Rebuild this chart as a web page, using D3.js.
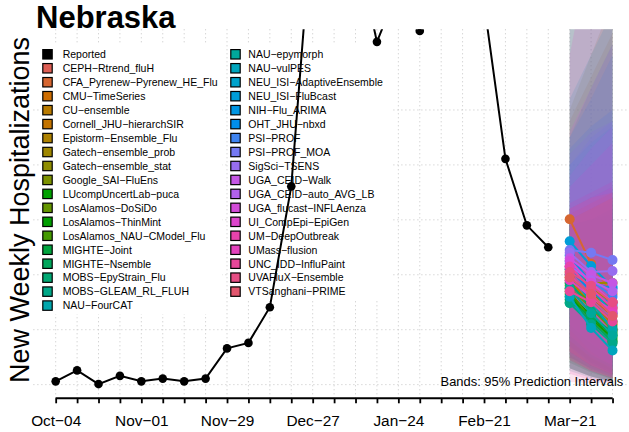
<!DOCTYPE html>
<html><head><meta charset="utf-8">
<script src="https://cdn.jsdelivr.net/npm/d3@7"></script>
<style>body{margin:0;background:#fff}svg{display:block;font-family:"Liberation Sans",Arial,Helvetica,sans-serif}</style>
</head><body><svg id="chart" width="629" height="432"></svg>
<script>
// ---------------- data ----------------
const weeks = ["2025-10-04","2025-10-11","2025-10-18","2025-10-25","2025-11-01","2025-11-08","2025-11-15","2025-11-22","2025-11-29","2025-12-06","2025-12-13","2025-12-20","2025-12-27","2026-01-03","2026-01-10","2026-01-17","2026-01-24","2026-01-31","2026-02-07","2026-02-14","2026-02-21","2026-02-28","2026-03-07","2026-03-14","2026-03-21","2026-03-28","2026-04-04"];
const reportedDates = ["2025-10-04","2025-10-11","2025-10-18","2025-10-25","2025-11-01","2025-11-08","2025-11-15","2025-11-22","2025-11-29","2025-12-06","2025-12-13","2025-12-20","2025-12-27","2026-01-03","2026-01-10","2026-01-17","2026-01-24","2026-01-31","2026-02-07","2026-02-14","2026-02-21","2026-02-28","2026-03-07","2026-03-14"];
const reported = [6,26,1,16,6,11,6,11,66,76,141,361,857,930,803,624,721,644,760,740,695,411,290,250];
const tickLabelDates = ["2025-10-04","2025-11-01","2025-11-29","2025-12-27","2026-01-24","2026-02-21","2026-03-21"];
const tickLabels = ["Oct\u221204","Nov\u221201","Nov\u221229","Dec\u221227","Jan\u221224","Feb\u221221","Mar\u221221"];
const yGrid = [0,100,200,300,400,500];
const yLimits = [0,622];
const forecastDates = ["2026-03-21","2026-03-28","2026-04-04"];
const models = ["CEPH\u2212Rtrend_fluH","CFA_Pyrenew\u2212Pyrenew_HE_Flu","CMU\u2212TimeSeries","CU\u2212ensemble","Cornell_JHU\u2212hierarchSIR","Epistorm\u2212Ensemble_Flu","Gatech\u2212ensemble_prob","Gatech\u2212ensemble_stat","Google_SAI\u2212FluEns","LUcompUncertLab\u2212puca","LosAlamos\u2212DoSiDo","LosAlamos\u2212ThinMint","LosAlamos_NAU\u2212CModel_Flu","MIGHTE\u2212Joint","MIGHTE\u2212Nsemble","MOBS\u2212EpyStrain_Flu","MOBS\u2212GLEAM_RL_FLUH","NAU\u2212FourCAT","NAU\u2212epymorph","NAU\u2212vulPES","NEU_ISI\u2212AdaptiveEnsemble","NEU_ISI\u2212FluBcast","NIH\u2212Flu_ARIMA","OHT_JHU\u2212nbxd","PSI\u2212PROF","PSI\u2212PROF_MOA","SigSci\u2212TSENS","UGA_CEID\u2212Walk","UGA_CEID\u2212auto_AVG_LB","UGA_flucast\u2212INFLAenza","UI_CompEpi\u2212EpiGen","UM\u2212DeepOutbreak","UMass\u2212flusion","UNC_IDD\u2212InfluPaint","UVAFluX\u2212Ensemble","VTSanghani\u2212PRIME"];
// position of each model in the colour sequence (palette assigned in locale sort order)
const colourRank = [0,1,2,4,3,5,6,7,8,12,9,11,10,13,14,15,16,18,17,19,20,21,22,23,24,25,26,28,27,29,30,32,31,33,34,35];
// medians
const medMar21 = [215,301,200,185,195,210,205,190,175,160,180,165,170,150,155,185,148,200,175,160,225,261,235,210,220,245,240,230,215,225,200,215,190,170,205,195];
const medMar28 = [180,220,160,150,140,175,185,165,140,120,150,125,118,125,115,140,110,150,130,103,175,216,185,170,190,240,205,200,190,185,160,175,160,150,180,165];
const medApr04 = [150,165,125,110,100,150,185,140,100,85,115,90,78,95,80,105,75,100,90,62,130,178,175,145,160,227,207,185,170,150,135,140,130,115,150,125];
// 95% lower bounds
const loMar21 = [60,90,70,60,40,80,60,70,50,30,50,45,30,50,40,65,30,70,25,30,80,100,70,50,80,110,90,60,55,50,45,20,30,5,60,45];
const loMar28 = [35,50,40,35,22,48,35,42,28,15,30,25,15,30,22,38,15,40,12,15,50,60,35,28,48,75,55,35,30,25,25,8,15,3,35,25];
const loApr04 = [20,25,20,18,10,28,22,25,12,6,15,10,5,18,10,22,5,20,4,5,30,35,20,15,28,50,35,20,15,12,12,4,6,3,18,12];
// 95% upper bounds
const hiMar21 = [300,700,290,300,480,310,500,290,300,320,310,300,680,290,300,290,450,330,520,320,400,430,450,700,400,420,650,460,380,360,320,330,600,310,320,300];
const hiMar28 = [320,850,310,320,560,330,600,300,320,340,330,320,820,300,310,300,540,350,600,340,440,470,520,880,450,460,760,540,430,400,340,350,800,330,340,320];
const hiApr04 = [340,1000,330,340,640,350,700,320,340,360,350,330,980,320,330,310,620,370,680,360,470,500,600,1050,480,480,880,620,470,440,360,370,1100,350,350,340];

// ---------------- helpers ----------------
const parse = d3.utcParse("%Y-%m-%d");
// R-style hcl() colour (polar CIE-LUV)
function hclR(h, c, l) {
  const Xn = 95.047, Yn = 100, Zn = 108.883;
  const den = Xn + 15 * Yn + 3 * Zn;
  const un = 4 * Xn / den, vn = 9 * Yn / den;
  const hr = h * Math.PI / 180;
  const U = c * Math.cos(hr), V = c * Math.sin(hr);
  const Y = l > 8 ? Yn * Math.pow((l + 16) / 116, 3) : Yn * l / 903.3;
  const u = U / (13 * l) + un, v = V / (13 * l) + vn;
  const X = Y * 9 * u / (4 * v);
  const Z = Y * (12 - 3 * u - 20 * v) / (4 * v);
  const lin = [3.240479 * X - 1.537150 * Y - 0.498535 * Z,
               -0.969256 * X + 1.875992 * Y + 0.041556 * Z,
               0.055648 * X - 0.204043 * Y + 1.057311 * Z].map(t => t / 100);
  const g = t => t <= 0.0031308 ? 12.92 * t : 1.055 * Math.pow(t, 1 / 2.4) - 0.055;
  const ch = lin.map(t => Math.max(0, Math.min(255, Math.round(255 * g(Math.max(0, t))))));
  return d3.rgb(ch[0], ch[1], ch[2]).formatHex();
}
const palette = models.map((m, i) => hclR(15 + 360 * colourRank[i] / models.length, 100, 56));

// ---------------- layout ----------------
const svg = d3.select("#chart");
const plot = {left: 33.4, right: 634.8, top: 29.3, bottom: 398.3};

const d0 = parse(weeks[0]), d1 = parse(weeks[weeks.length - 1]);
const span = d1 - d0;
const x = d3.scaleUtc()
  .domain([new Date(+d0 - 0.04 * span), new Date(+d1 + 0.04 * span)])
  .range([plot.left, plot.right]);
const yr = yLimits[1] - yLimits[0];
const y = d3.scaleLinear()
  .domain([yLimits[0] - 0.04 * yr, yLimits[1] + 0.04 * yr])
  .range([plot.bottom, plot.top]);

svg.append("defs").append("clipPath").attr("id", "clip")
  .append("rect").attr("x", plot.left).attr("y", plot.top)
  .attr("width", plot.right - plot.left).attr("height", plot.bottom - plot.top);

// grid
const grid = svg.append("g").attr("stroke", "#c4c4c4").attr("stroke-width", 1).attr("stroke-dasharray", "1,3");
grid.selectAll("line.v").data(weeks).join("line").attr("class", "v")
  .attr("x1", d => x(parse(d))).attr("x2", d => x(parse(d)))
  .attr("y1", plot.top).attr("y2", plot.bottom);
grid.selectAll("line.h").data(yGrid).join("line").attr("class", "h")
  .attr("x1", plot.left).attr("x2", plot.right)
  .attr("y1", d => y(d)).attr("y2", d => y(d));

// x axis
const labelMap = new Map(tickLabelDates.map((d, i) => [d, tickLabels[i]]));
const axis = d3.axisBottom(x)
  .tickValues(weeks.map(parse))
  .tickSize(5).tickPadding(11.8)
  .tickFormat(d => labelMap.get(d3.utcFormat("%Y-%m-%d")(d)) || "");
const ax = svg.append("g").attr("transform", `translate(0,${plot.bottom})`).call(axis);
ax.select(".domain").remove();
ax.selectAll(".tick line").attr("stroke", "#000").attr("stroke-width", 1.8);
ax.selectAll(".tick text").attr("font-size", "15.4px").attr("fill", "#000")
  .attr("font-family", "Liberation Sans, Arial, sans-serif");
ax.append("line").attr("x1", x(d0)).attr("x2", x(d1)).attr("y1", 0).attr("y2", 0)
  .attr("stroke", "#000").attr("stroke-width", 2);

// title & y label
svg.append("text").attr("x", 36).attr("y", 28.3).attr("font-size", "31px")
  .attr("font-weight", "bold").attr("fill", "#000").text("Nebraska");
svg.append("text").attr("transform", "translate(29.3,210) rotate(-90)")
  .attr("text-anchor", "middle").attr("font-size", "27px").attr("fill", "#000")
  .text("New Weekly Hospitalizations");

// legend (two boxes with white background)
const legendItems = [{name: "Reported", color: "#000"}].concat(models.map((m, i) => ({name: m, color: palette[i]})));
const rowH = 13.96, row0 = 54.3;
const leg = svg.append("g");
leg.append("rect").attr("x", 40).attr("y", 45).attr("width", 182).attr("height", 269).attr("fill", "#fff");
leg.append("rect").attr("x", 228).attr("y", 45).attr("width", 163).attr("height", 255).attr("fill", "#fff");
legendItems.forEach((it, k) => {
  const col = k < 19 ? 0 : 1;
  const r = col === 0 ? k : k - 19;
  const cx = col === 0 ? 47.5 : 235.5;
  const tx = col === 0 ? 62.7 : 248.3;
  const cy = row0 + r * rowH;
  leg.append("rect").attr("x", cx - 4.7).attr("y", cy - 4.7).attr("width", 9.4).attr("height", 9.4)
    .attr("fill", it.color).attr("stroke", "#000").attr("stroke-width", 1.2);
  leg.append("text").attr("x", tx).attr("y", cy + 3.8).attr("font-size", "10.5px")
    .attr("fill", "#000").text(it.name);
});

// data layers
const data = svg.append("g").attr("clip-path", "url(#clip)");

// reported
const rep = reportedDates.map((d, i) => ({d: parse(d), v: reported[i]}));
data.append("path").datum(rep)
  .attr("d", d3.line().x(p => x(p.d)).y(p => y(p.v)))
  .attr("fill", "none").attr("stroke", "#000").attr("stroke-width", 2);
data.selectAll("circle.rep").data(rep).join("circle").attr("class", "rep")
  .attr("cx", p => x(p.d)).attr("cy", p => y(p.v)).attr("r", 4.3).attr("fill", "#000");

// forecasts
const fd = forecastDates.map(parse);
const fc = models.map((m, i) => ({
  name: m, color: palette[i],
  pts: fd.map((d, j) => ({
    d,
    med: [medMar21, medMar28, medApr04][j][i],
    lo: [loMar21, loMar28, loApr04][j][i],
    hi: [hiMar21, hiMar28, hiApr04][j][i]
  }))
}));
const area = d3.area().x(p => x(p.d)).y0(p => y(p.lo)).y1(p => y(p.hi));
data.selectAll("path.band").data(fc).join("path").attr("class", "band")
  .attr("d", f => area(f.pts)).attr("fill", f => f.color).attr("fill-opacity", 0.15);

const line = d3.line().x(p => x(p.d)).y(p => y(p.med));
fc.forEach(f => {
  data.append("path").attr("d", line(f.pts)).attr("fill", "none")
    .attr("stroke", f.color).attr("stroke-width", 2);
  data.selectAll(null).data(f.pts).join("circle")
    .attr("cx", p => x(p.d)).attr("cy", p => y(p.med)).attr("r", 5).attr("fill", f.color);
});

svg.append("text").attr("x", 623.3).attr("y", 386).attr("text-anchor", "end")
  .attr("font-size", "12.9px").attr("fill", "#000").text("Bands: 95% Prediction Intervals");
</script>
</body></html>
